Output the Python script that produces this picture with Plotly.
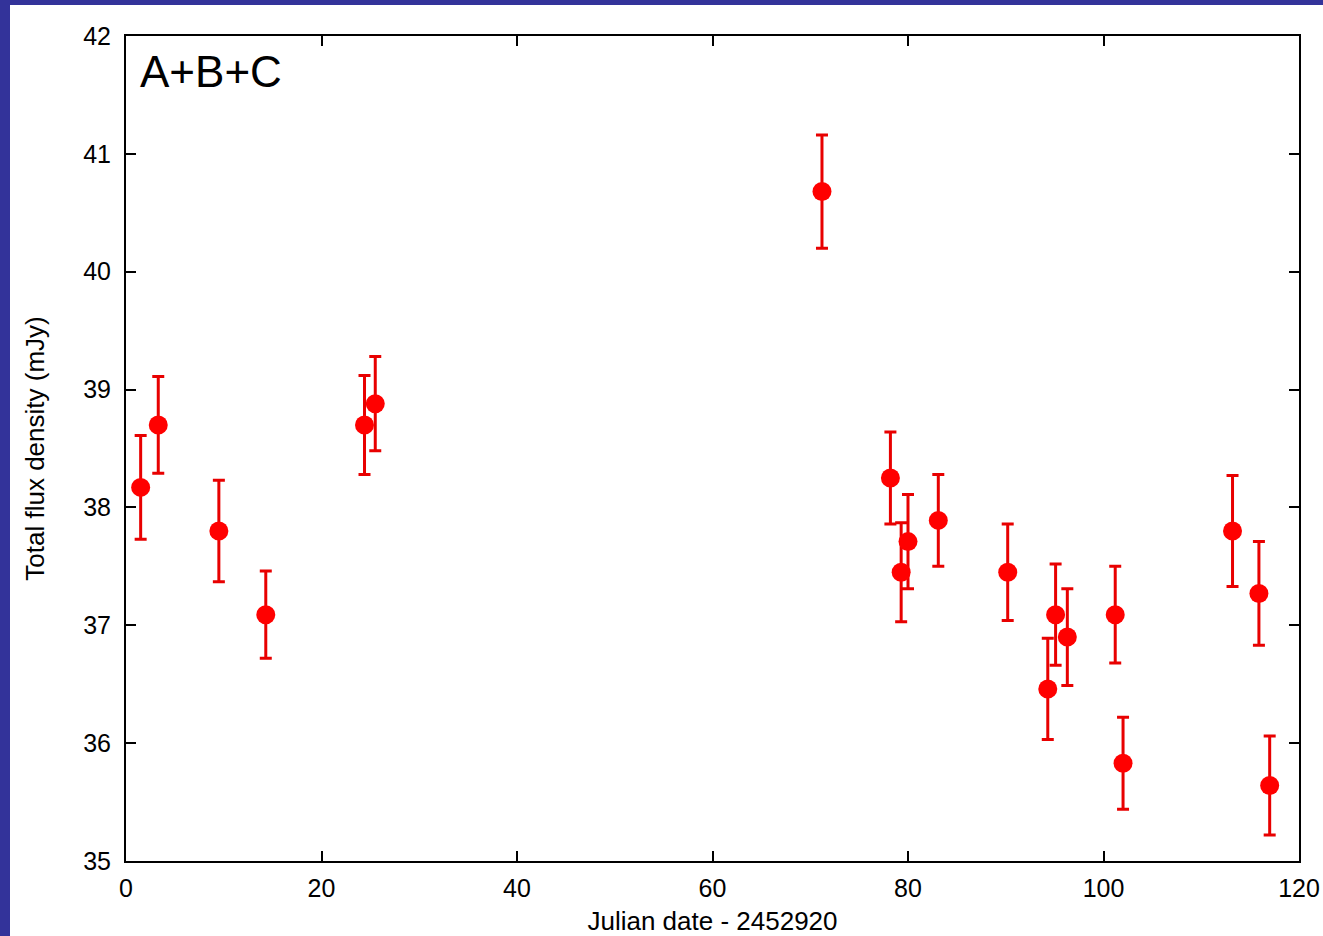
import plotly.graph_objects as go

# Data
julian_day = [1.5, 3.3, 9.5, 14.3, 24.4, 25.5, 71.2, 78.2, 79.3, 80.0, 83.1,
              90.2, 94.3, 95.1, 96.3, 101.2, 102.0, 113.2, 115.9, 117.0]
flux_mjy = [38.17, 38.70, 37.80, 37.09, 38.70, 38.88, 40.68, 38.25, 37.45, 37.71,
            37.89, 37.45, 36.46, 37.09, 36.90, 37.09, 35.83, 37.80, 37.27, 35.64]
flux_err = [0.44, 0.41, 0.43, 0.37, 0.42, 0.40, 0.48, 0.39, 0.42, 0.40,
            0.39, 0.41, 0.43, 0.43, 0.41, 0.41, 0.39, 0.47, 0.44, 0.42]

x_ticks = [0, 20, 40, 60, 80, 100, 120]
y_ticks = [35, 36, 37, 38, 39, 40, 41, 42]

W, H = 1323, 936
L, R, T, B = 126, 24, 36, 75
pw, ph = W - L - R, H - T - B

def px_x(p):
    return (p - L) / pw

def px_y(p):
    return (H - B - p) / ph

blue = "#33339a"
font = "Liberation Sans, Arial, sans-serif"

fig = go.Figure()
fig.add_trace(go.Scatter(
    x=julian_day, y=flux_mjy, mode="markers",
    marker=dict(color="#ff0000", size=19),
    error_y=dict(type="data", array=flux_err, visible=True,
                 color="#e80000", thickness=3, width=6),
    showlegend=False,
))

axis_common = dict(
    showline=True, linecolor="black", linewidth=2, mirror="allticks",
    ticks="inside", ticklen=10, tickwidth=1.5, tickcolor="black",
    showgrid=False, zeroline=False, automargin=False,
    tickfont=dict(family=font, size=25, color="black"),
)

fig.update_layout(
    width=W, height=H,
    margin=dict(l=L, r=R, t=T, b=B),
    paper_bgcolor="white", plot_bgcolor="white",
    xaxis=dict(range=[0, 120], tickvals=x_ticks, ticklabelstandoff=4,
               title=dict(text="Julian date - 2452920", standoff=19,
                          font=dict(family=font, size=26, color="black")),
               **axis_common),
    yaxis=dict(range=[35, 42], tickvals=y_ticks, ticklabelstandoff=8,
               title=dict(text="Total flux density (mJy)", standoff=31,
                          font=dict(family=font, size=26, color="black")),
               **axis_common),
    shapes=[
        dict(type="rect", xref="paper", yref="paper",
             x0=px_x(0), x1=px_x(10), y0=px_y(H), y1=px_y(0),
             fillcolor=blue, line=dict(width=0), layer="above"),
        dict(type="rect", xref="paper", yref="paper",
             x0=px_x(0), x1=px_x(W), y0=px_y(5), y1=px_y(0),
             fillcolor=blue, line=dict(width=0), layer="above"),
    ],
    annotations=[
        dict(text="A+B+C", xref="paper", yref="paper",
             x=px_x(138), y=px_y(72), xanchor="left", yanchor="middle",
             showarrow=False, font=dict(family=font, size=44, color="black")),
    ],
)

fig.write_html("out.html")
